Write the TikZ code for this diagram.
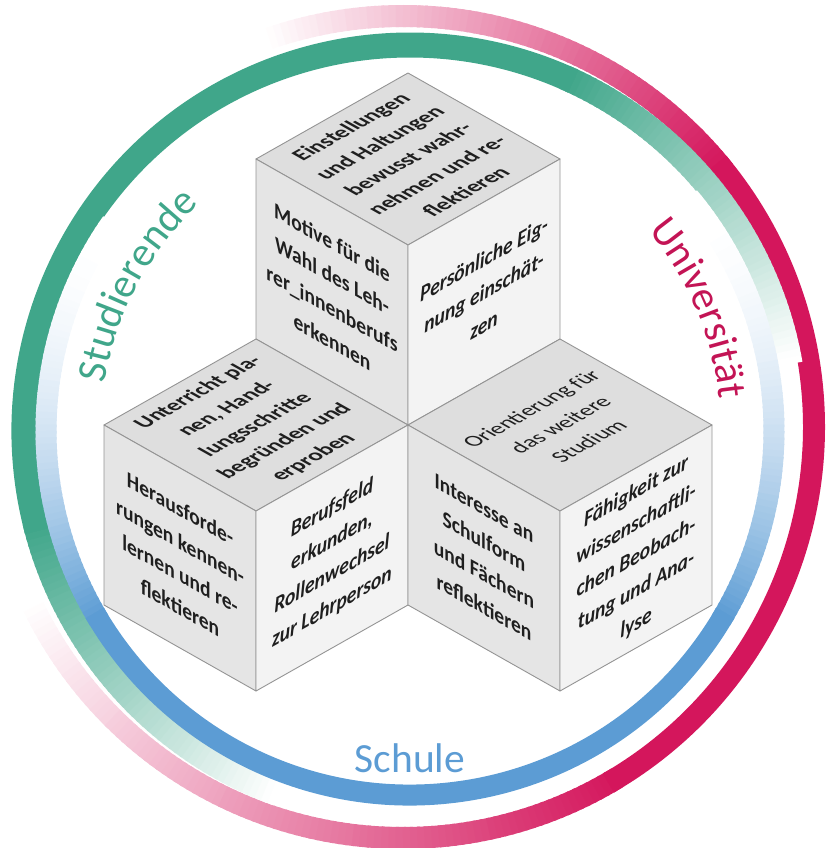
\documentclass[tikz,border=0pt]{standalone}
\usepackage{fontspec}
\setmainfont{Carlito}
\usetikzlibrary{decorations.text}

\definecolor{ringgreen}{RGB}{64,166,138}
\definecolor{ringblue}{RGB}{92,156,212}
\definecolor{ringpink}{RGB}{212,22,92}
\definecolor{facetop}{RGB}{222,222,222}
\definecolor{faceleft}{RGB}{229,229,229}
\definecolor{faceright}{RGB}{243,243,243}

\newcommand{\ringfont}{\fontsize{41.5}{42}\selectfont}
\newcommand{\cubefont}{\fontsize{22.5}{33}\selectfont}

\tikzset{
  cubeface/.style={draw=black!42, line width=0.9pt, line join=round},
  ringseg/.style={line width=#1, line cap=butt},
  facetext/.style={align=center, inner sep=0pt, text=black!88, font=\cubefont\bfseries},
  ontop/.style={facetext, cm={0.87,0.49,-0.87,0.49,(0,0)}},
  onleft/.style={facetext, cm={0.87,-0.49,0,1,(0,0)}},
  onright/.style={facetext, font=\cubefont\bfseries\itshape, cm={0.87,0.49,0,1,(0,0)}},
  ringlabel/.style={font=\ringfont, inner sep=0pt},
}

% one cube: #1 name, #2 front corner
\newcommand{\isocube}[2]{
  \coordinate (#1) at (#2);
  \filldraw[cubeface, fill=facetop] (#1) -- ++(-152,-86) -- ++(152,-86) -- ++(152,86) -- cycle;
  \filldraw[cubeface, fill=faceleft] (#1) -- ++(-152,-86) -- ++(0,180) -- ++(152,86) -- cycle;
  \filldraw[cubeface, fill=faceright] (#1) -- ++(152,-86) -- ++(0,180) -- ++(-152,86) -- cycle;
}

% ring: colour, centre, radius, width, fade in #5..#6, solid #6..#7, fade out #7..#8, fade power #9
\newcommand{\fadering}[9]{
  \foreach \a in {#5,...,#6} {
    \pgfmathtruncatemacro\p{100*((\a-(#5))/((#6)-(#5)))^#9}
    \draw[ringseg=#4, draw=#1!\p!white] (#2) ++(\a:#3) arc[start angle=\a, end angle=\a+1.4, radius=#3];
  }
  \foreach \a in {#8,...,#7} {
    \pgfmathtruncatemacro\p{100*(((#8)-\a)/((#8)-(#7)))^#9}
    \draw[ringseg=#4, draw=#1!\p!white] (#2) ++(\a:#3) arc[start angle=\a, end angle=\a-1.4, radius=#3];
  }
  \draw[ringseg=#4, draw=#1] (#2) ++(#6:#3) arc[start angle=#6, end angle=#7, radius=#3];
}

\begin{document}
\begin{tikzpicture}[x=1pt, y=-1pt]

  \useasboundingbox (0,0) rectangle (829,848);
  \coordinate (ringc) at (410,431);
  \coordinate (pinkc) at (403,427);

  % rings
  \fadering{ringpink}{pinkc}{411}{22pt}{-110}{-40}{60}{155}{1}
  \fadering{ringgreen}{ringc}{386}{25pt}{110}{165}{295}{350}{1}
  \fadering{ringblue}{ringc}{364}{21pt}{-40}{30}{150}{215}{2}

  % ring labels
  \path[decorate, decoration={text along path, text align=center, text color=ringgreen,
    text={|\ringfont|Studierende}}] (ringc) ++(168:309) arc[start angle=168, end angle=248, radius=309];
  \path[decorate, decoration={text along path, text align=center, text color=ringpink!92!black,
    text={|\ringfont|Universität}}] (ringc) ++(-63:311) arc[start angle=-63, end angle=17, radius=311];
  \node[ringlabel, text=ringblue] (schule) at (410,758) {Schule};

  % cubes
  \isocube{upper}{408,245}
  \isocube{lowleft}{256,511}
  \isocube{lowright}{560,511}

  \path (upper) ++(0,-86) node[ontop] (upper-top) {Einstellungen\\und Haltungen\\bewusst wahr-\\nehmen und re-\\flektieren};
  \path (upper) ++(-76,47) node[onleft] (upper-left) {Motive für die\\Wahl des Leh-\\rer\_innenberufs\\erkennen};
  \path (upper) ++(76,47) node[onright] (upper-right) {Persönliche Eig-\\nung einschät-\\zen};

  \path (lowleft) ++(0,-86) node[ontop] (lowleft-top) {Unterricht pla-\\nen, Hand-\\lungsschritte\\begründen und\\erproben};
  \path (lowleft) ++(-76,47) node[onleft] (lowleft-left) {Herausforde-\\rungen kennen-\\lernen und re-\\flektieren};
  \path (lowleft) ++(76,47) node[onright] (lowleft-right) {Berufsfeld\\erkunden,\\Rollenwechsel\\zur Lehrperson};

  \path (lowright) ++(0,-86) node[ontop, font=\cubefont] (lowright-top) {Orientierung für\\das weitere\\Studium};
  \path (lowright) ++(-76,47) node[onleft] (lowright-left) {Interesse an\\Schulform\\und Fächern\\reflektieren};
  \path (lowright) ++(76,47) node[onright] (lowright-right) {Fähigkeit zur\\wissenschaftli-\\chen Beobach-\\tung und Ana-\\lyse};

\end{tikzpicture}
\end{document}
